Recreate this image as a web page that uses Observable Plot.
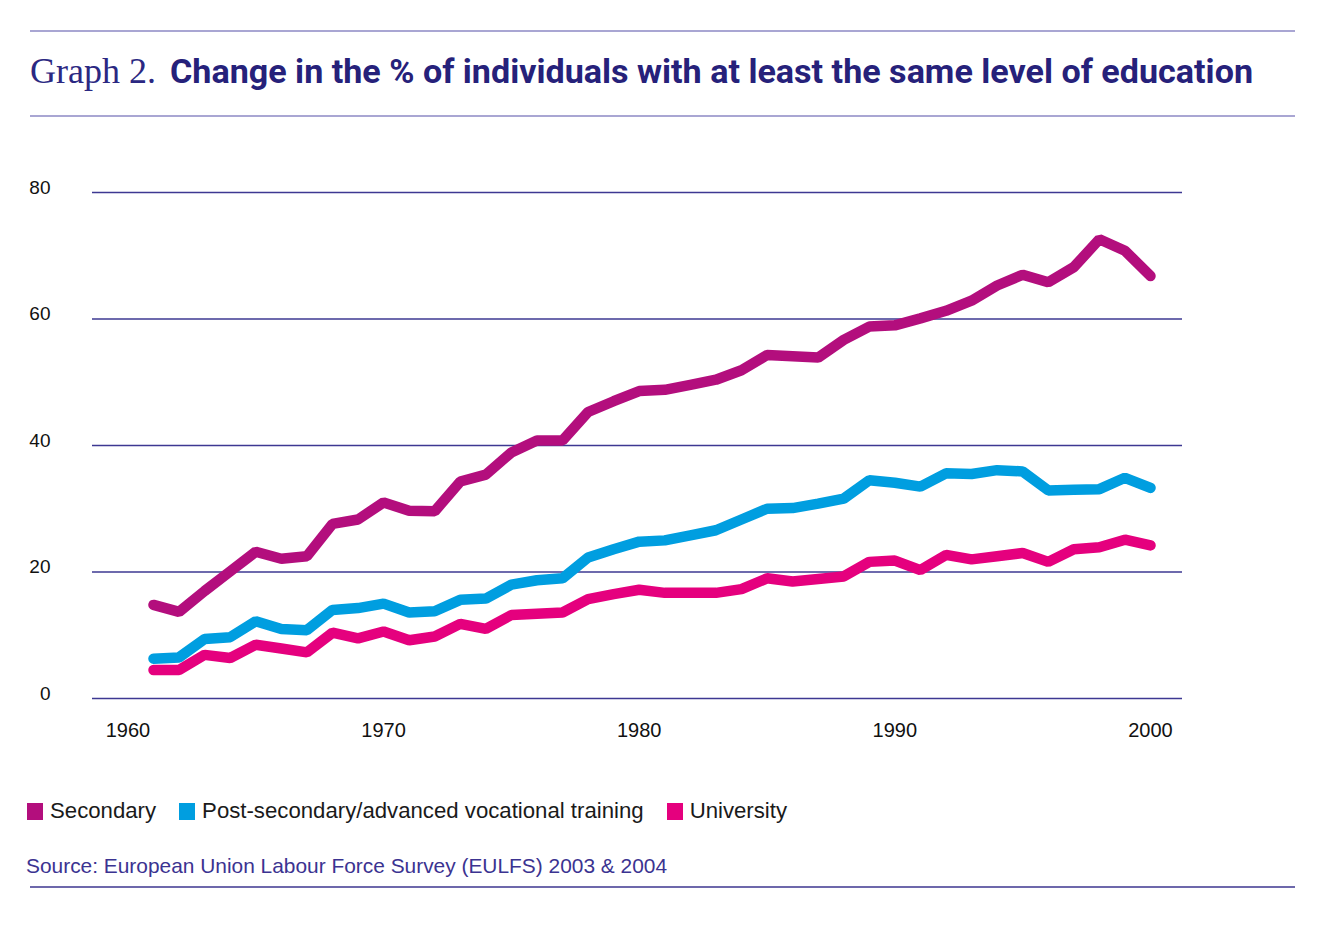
<!DOCTYPE html>
<html>
<head>
<meta charset="utf-8">
<script src="https://cdn.jsdelivr.net/npm/d3@7"></script>
<script src="https://cdn.jsdelivr.net/npm/@observablehq/plot@0.6"></script>
<style>
  html, body { margin: 0; padding: 0; background: #fff; }
  #page { position: relative; width: 1323px; height: 934px; overflow: hidden; font-family: "Liberation Sans", Arial, sans-serif; }
  .rule { position: absolute; left: 30px; width: 1265px; height: 1.5px; }
  #header { position: absolute; left: 0; top: 0; }
  #chart { position: absolute; left: 0; top: 150px; }
  #legend { position: absolute; left: 27px; top: 798px; display: flex; align-items: center; font-size: 22.2px; color: #1a1a1a; }
  #legend .item { display: flex; align-items: center; margin-right: 23px; }
  #legend .sw { width: 16px; height: 17px; margin-right: 7px; }
  #source { position: absolute; left: 26px; top: 854px; font-size: 20.9px; color: #3b3391; }
</style>
</head>
<body>
<div id="page">
  <div class="rule" style="top:30px;background:#a9a6d3"></div>
  <svg id="header" width="1323" height="120">
    <text x="30" y="83" font-family="Liberation Serif, Times New Roman, serif" font-size="36" fill="#2b2882">Graph 2.</text>
    <text x="170" y="83" font-family="Roboto, Liberation Sans, sans-serif" font-weight="700" font-size="33" fill="#26217a" textLength="1083" lengthAdjust="spacingAndGlyphs">Change in the % of individuals with at least the same level of education</text>
  </svg>
  <div class="rule" style="top:115px;background:#a9a6d3"></div>
  <div id="chart"></div>
  <div id="legend"></div>
  <div id="source">Source: European Union Labour Force Survey (EULFS) 2003 &amp; 2004</div>
  <div class="rule" style="top:886px;background:#6d68ab"></div>
</div>
<script>
const years = [1961,1962,1963,1964,1965,1966,1967,1968,1969,1970,
               1971,1972,1973,1974,1975,1976,1977,1978,1979,1980,
               1981,1982,1983,1984,1985,1986,1987,1988,1989,1990,
               1991,1992,1993,1994,1995,1996,1997,1998,1999,2000];

const secondary = [14.8,13.7,17.0,20.1,23.2,22.1,22.5,27.6,28.3,31.0,
                   29.7,29.6,34.3,35.4,38.9,40.8,40.8,45.3,47.0,48.6,
                   48.8,49.6,50.4,51.9,54.3,54.1,53.9,56.7,58.8,59.0,
                   60.1,61.3,62.9,65.3,67.0,65.8,68.2,72.6,70.8,66.8];

const postSecondary = [6.3,6.5,9.4,9.7,12.2,11.0,10.8,14.0,14.3,15.0,
                       13.6,13.8,15.6,15.8,18.0,18.7,19.0,22.3,23.6,24.8,
                       25.0,25.8,26.6,28.3,30.0,30.1,30.8,31.6,34.5,34.1,
                       33.5,35.6,35.5,36.1,35.9,32.9,33.0,33.1,34.9,33.3];

const university = [4.5,4.5,6.9,6.4,8.5,7.9,7.3,10.4,9.5,10.6,
                    9.2,9.8,11.8,11.0,13.2,13.4,13.6,15.7,16.5,17.2,
                    16.7,16.7,16.7,17.3,19.0,18.5,18.9,19.3,21.6,21.8,
                    20.3,22.7,22.0,22.5,23.0,21.6,23.6,23.9,25.1,24.2];

const seriesNames = ["Secondary", "Post-secondary/advanced vocational training", "University"];
const seriesColors = ["#b30e7d", "#009ee0", "#e5007e"];
const yTicks = [0, 20, 40, 60, 80];
const xTicks = [1960, 1970, 1980, 1990, 2000];

const seriesValues = [secondary, postSecondary, university];
const data = [];
seriesNames.forEach((name, i) => {
  years.forEach((yr, j) => data.push({series: name, year: yr, value: seriesValues[i][j]}));
});

const chart = Plot.plot({
  width: 1323,
  height: 620,
  marginTop: 42,
  marginBottom: 72,
  marginLeft: 92,
  marginRight: 141,
  style: {fontFamily: "Liberation Sans, Arial, sans-serif", background: "transparent", overflow: "visible"},
  x: {domain: [1961, 2000], range: [153, 1150]},
  y: {domain: [0, 80]},
  color: {domain: seriesNames, range: seriesColors},
  marks: [
    Plot.ruleY(yTicks, {stroke: "#3d3892", strokeWidth: 1.5}),
    Plot.axisY({ticks: yTicks, tickSize: 0, tickPadding: 42, dy: -5, fontSize: 19, fill: "#111", label: null}),
    Plot.axisX({ticks: xTicks, tickSize: 0, tickPadding: 24, fontSize: 20, fill: "#111", label: null, tickFormat: d => String(d)}),
    Plot.line(data, {x: "year", y: "value", z: "series", stroke: "series", strokeWidth: 10.5, strokeLinecap: "round", strokeLinejoin: "miter"})
  ]
});
document.getElementById("chart").appendChild(chart);

const legend = document.getElementById("legend");
seriesNames.forEach((name, i) => {
  const item = document.createElement("div");
  item.className = "item";
  const sw = document.createElement("div");
  sw.className = "sw";
  sw.style.background = seriesColors[i];
  const label = document.createElement("span");
  label.textContent = name;
  item.appendChild(sw);
  item.appendChild(label);
  legend.appendChild(item);
});
</script>
</body>
</html>
